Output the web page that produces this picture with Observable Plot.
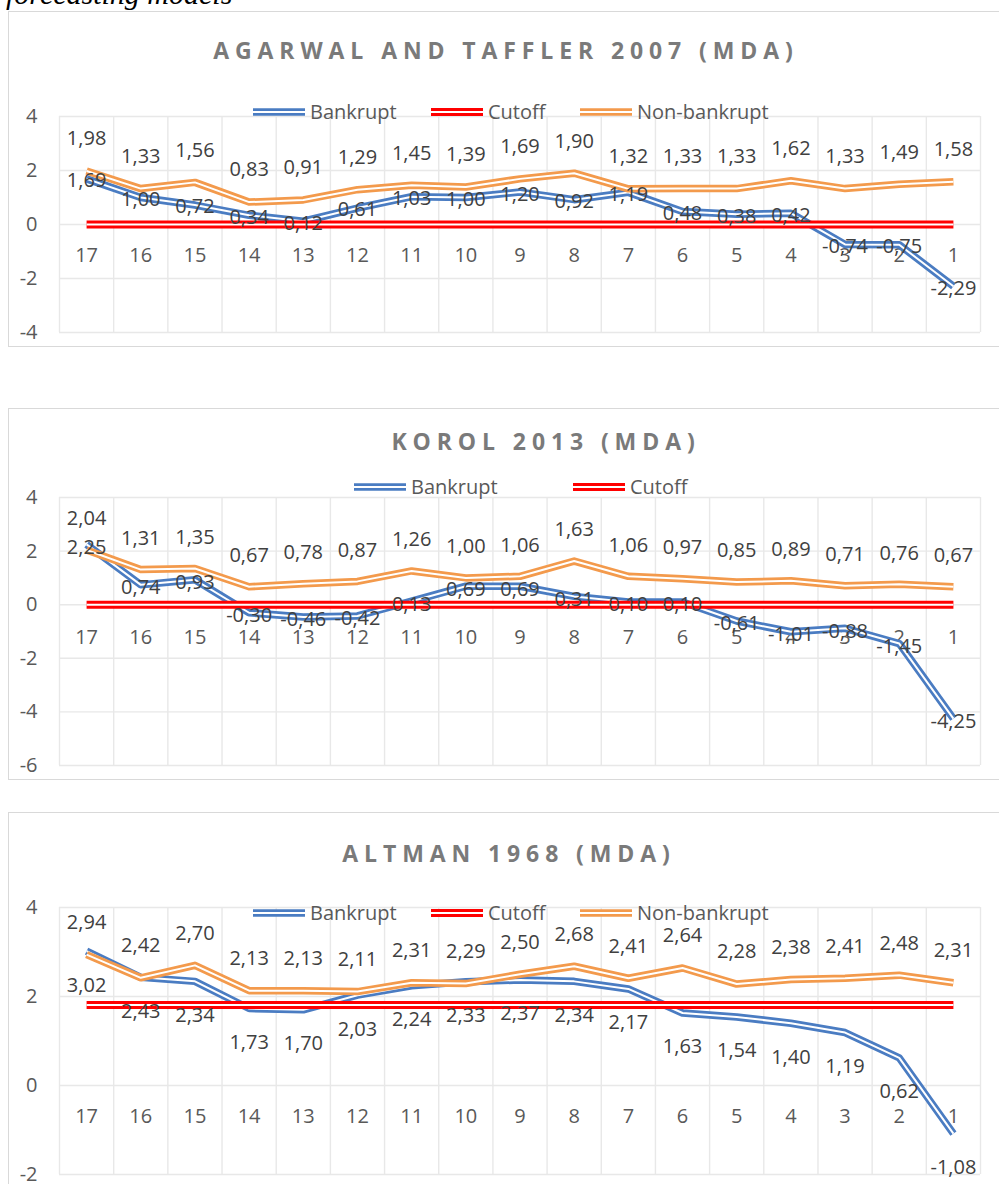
<!DOCTYPE html>
<html><head><meta charset="utf-8">
<script src="https://cdn.jsdelivr.net/npm/d3@7"></script>
<script src="https://cdn.jsdelivr.net/npm/@observablehq/plot@0.6"></script>
<style>
html,body{margin:0;padding:0;background:#fff;}
body{width:999px;height:1184px;overflow:hidden;position:relative;font-family:"Open Sans",sans-serif;}
.box{position:absolute;border:1.5px solid #d9d9d9;box-sizing:border-box;background:#fff;}
.title{position:absolute;font-weight:700;font-size:23px;letter-spacing:5.9px;color:#7a7a7a;white-space:nowrap;transform:translate(-50%,-50%);line-height:1;}
.leg{position:absolute;display:flex;align-items:center;font-size:20px;color:#595959;white-space:nowrap;transform:translateY(-50%);line-height:1;}
.leg svg{margin-right:5px;}
.pw{position:absolute;left:0;}
</style></head><body>
<svg style="position:absolute;left:0;top:0" width="400" height="12"><text x="6" y="4" font-family="Liberation Serif" font-style="italic" font-size="30" fill="#000">forecasting models</text></svg>
<script>
const periods = [17,16,15,14,13,12,11,10,9,8,7,6,5,4,3,2,1];

const agarwalBankrupt = [1.69,1.00,0.72,0.34,0.12,0.61,1.03,1.00,1.20,0.92,1.19,0.48,0.38,0.42,-0.74,-0.75,-2.29];
const agarwalNonBankrupt = [1.98,1.33,1.56,0.83,0.91,1.29,1.45,1.39,1.69,1.90,1.32,1.33,1.33,1.62,1.33,1.49,1.58];
const agarwalCutoff = 0;

const korolBankrupt = [2.25,0.74,0.93,-0.30,-0.46,-0.42,0.13,0.69,0.69,0.31,0.10,0.10,-0.61,-1.01,-0.88,-1.45,-4.25];
const korolNonBankrupt = [2.04,1.31,1.35,0.67,0.78,0.87,1.26,1.00,1.06,1.63,1.06,0.97,0.85,0.89,0.71,0.76,0.67];
const korolCutoff = 0;

const altmanBankrupt = [3.02,2.43,2.34,1.73,1.70,2.03,2.24,2.33,2.37,2.34,2.17,1.63,1.54,1.40,1.19,0.62,-1.08];
const altmanNonBankrupt = [2.94,2.42,2.70,2.13,2.13,2.11,2.31,2.29,2.50,2.68,2.41,2.64,2.28,2.38,2.41,2.48,2.31];
const altmanCutoff = 1.81;

const ticksAgarwal = [-4,-2,0,2,4];
const ticksKorol = [-6,-4,-2,0,2,4];
const ticksAltman = [-2,0,2,4];

const BLUE = "#4A7CC2", RED = "#FF0000", ORANGE = "#F39A4C";

const charts = [
  {title:"AGARWAL AND TAFFLER 2007 (MDA)", tx:506, ty:49.5, box:[8,11,1000,347],
   plotTop:116, plotBottom:332, ticks:ticksAgarwal, bankrupt:agarwalBankrupt, non:agarwalNonBankrupt, cutoff:agarwalCutoff,
   bDy:2, nDy:-32, catDy:31, legY:112,
   legend:[["Bankrupt",BLUE,253],["Cutoff",RED,431],["Non-bankrupt",ORANGE,580]]},
  {title:"KOROL 2013 (MDA)", tx:546, ty:441, box:[8,408,1000,780],
   plotTop:497, plotBottom:765, ticks:ticksKorol, bankrupt:korolBankrupt, non:korolNonBankrupt, cutoff:korolCutoff,
   bDy:3, nDy:-31, catDy:33, legY:487,
   legend:[["Bankrupt",BLUE,354],["Cutoff",RED,573]]},
  {title:"ALTMAN 1968 (MDA)", tx:509, ty:852.5, box:[8,812,1000,1300],
   plotTop:907, plotBottom:1174, ticks:ticksAltman, bankrupt:altmanBankrupt, non:altmanNonBankrupt, cutoff:altmanCutoff,
   bDy:34, nDy:-32, catDy:31, legY:913,
   legend:[["Bankrupt",BLUE,253],["Cutoff",RED,431],["Non-bankrupt",ORANGE,580]]}
];

const fmt = v => v.toFixed(2).replace(".", ",");
const GRID = "#e8e8e8";

function swatch(color){
  const ns="http://www.w3.org/2000/svg";
  const s=document.createElementNS(ns,"svg");
  s.setAttribute("width","52");s.setAttribute("height","10");
  const w = color===RED?8:7.5;
  [[color,w],["#fff",2]].forEach(([c,sw])=>{
    const l=document.createElementNS(ns,"line");
    l.setAttribute("x1","0");l.setAttribute("x2","52");l.setAttribute("y1","5");l.setAttribute("y2","5");
    l.setAttribute("stroke",c);l.setAttribute("stroke-width",sw);
    s.appendChild(l);
  });
  return s;
}

for (const c of charts) {
  const box = document.createElement("div");
  box.className="box";
  box.style.left=c.box[0]+"px"; box.style.top=c.box[1]+"px";
  box.style.width=(c.box[2]-c.box[0])+"px"; box.style.height=(c.box[3]-c.box[1])+"px";
  document.body.appendChild(box);

  const mT=40, mB=40;
  const rows = periods.map((p,i)=>({p, b:c.bankrupt[i], n:c.non[i], cut:c.cutoff}));
  const bounds = d3.range(periods.length+1).map(i => periods[0]+0.5-i);
  const dom = [d3.min(c.ticks), d3.max(c.ticks)];
  const plot = Plot.plot({
    width:999, height:(c.plotBottom-c.plotTop)+mT+mB,
    marginLeft:59, marginRight:19, marginTop:mT, marginBottom:mB,
    x:{domain:[17.5,0.5], axis:null},
    y:{domain:dom},
    style:{background:"transparent", overflow:"visible", fontFamily:"Open Sans", fontSize:"20px"},
    marks:[
      Plot.ruleX(bounds,{x:d=>d, stroke:GRID, strokeWidth:1.4}),
      Plot.ruleY(c.ticks,{y:d=>d, stroke:GRID, strokeWidth:1.4}),
      Plot.axisY({ticks:c.ticks, tickSize:0, tickPadding:22, tickFormat:d=>String(d), fontSize:20, fill:"#595959", label:null}),
      Plot.text(periods,{x:d=>d, y:()=>0, text:d=>String(d), dy:c.catDy, fill:"#595959", fontSize:20}),
      Plot.line(rows,{x:"p", y:"b", stroke:BLUE, strokeWidth:7.5, strokeLinecap:"butt"}),
      Plot.line(rows,{x:"p", y:"b", stroke:"#fff", strokeWidth:2, strokeLinecap:"butt"}),
      Plot.line(rows,{x:"p", y:"cut", stroke:RED, strokeWidth:8, strokeLinecap:"butt"}),
      Plot.line(rows,{x:"p", y:"cut", stroke:"#fff", strokeWidth:2, strokeLinecap:"butt"}),
      Plot.line(rows,{x:"p", y:"n", stroke:ORANGE, strokeWidth:7.5, strokeLinecap:"butt"}),
      Plot.line(rows,{x:"p", y:"n", stroke:"#fff", strokeWidth:2, strokeLinecap:"butt"}),
      Plot.text(rows,{x:"p", y:"b", text:d=>fmt(d.b), dy:c.bDy, fill:"#404040", fontSize:20}),
      Plot.text(rows,{x:"p", y:"n", text:d=>fmt(d.n), dy:c.nDy, fill:"#404040", fontSize:20})
    ]
  });
  const pw=document.createElement("div");
  pw.className="pw"; pw.style.top=(c.plotTop-mT)+"px";
  pw.appendChild(plot);
  document.body.appendChild(pw);

  const t=document.createElement("div");
  t.className="title"; t.textContent=c.title;
  t.style.left=c.tx+"px"; t.style.top=c.ty+"px";
  document.body.appendChild(t);

  for (const [name,color,x] of c.legend){
    const l=document.createElement("div");
    l.className="leg"; l.style.left=x+"px"; l.style.top=c.legY+"px";
    l.appendChild(swatch(color));
    const sp=document.createElement("span"); sp.textContent=name; l.appendChild(sp);
    document.body.appendChild(l);
  }
}
</script>
</body></html>
